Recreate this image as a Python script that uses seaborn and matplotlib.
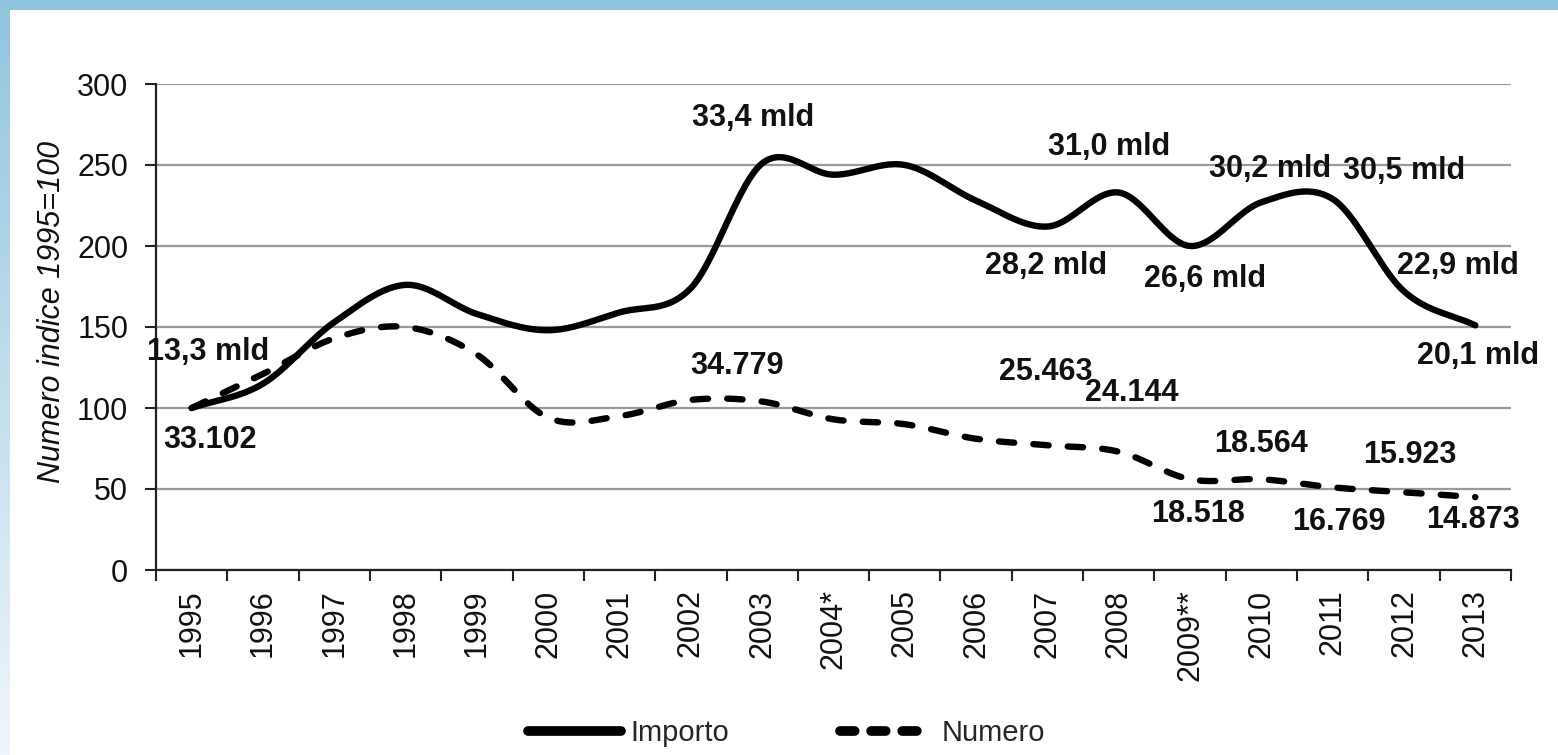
import numpy as np
import pandas as pd
import matplotlib
matplotlib.use("Agg")
import matplotlib.pyplot as plt
from matplotlib.lines import Line2D
from matplotlib.patches import Rectangle
import seaborn as sns

# Data (index 1995=100)
years = ["1995", "1996", "1997", "1998", "1999", "2000", "2001", "2002", "2003", "2004*",
         "2005", "2006", "2007", "2008", "2009**", "2010", "2011", "2012", "2013"]
importo = [100, 115, 153, 176, 158, 148, 159, 174, 251, 244,
           250, 228, 212, 233, 200, 227, 229, 172, 151]
numero = [100, 121, 143, 150, 133, 94, 95, 105, 104, 93,
          90, 81, 77, 73, 56, 56, 51, 48, 45]

# data labels: (year index, text)
importo_labels = [(0, "13,3 mld"), (8, "33,4 mld"), (12, "28,2 mld"), (13, "31,0 mld"),
                  (14, "26,6 mld"), (15, "30,2 mld"), (16, "30,5 mld"), (17, "22,9 mld"),
                  (18, "20,1 mld")]
numero_labels = [(0, "33.102"), (7, "34.779"), (12, "25.463"), (13, "24.144"),
                 (14, "18.518"), (15, "18.564"), (16, "16.769"), (17, "15.923"),
                 (18, "14.873")]

# label offsets in pixels (dx, dy up)
importo_off = [(16, 56), (-9, 45), (-1, -39), (-10, 46), (15, -33), (9, 33), (71, 28), (54, 25), (3, -31)]
numero_off = [(18, -32), (46, 34), (-2, 73), (13, 59), (8, -35), (0, 35), (6, -35), (6, 37), (-2, -23)]


def smooth(ys, n=40):
    # catmull-rom like the excel "smoothed line"
    p = np.array(ys, dtype=float)
    x = np.arange(len(p), dtype=float)
    pts = np.column_stack([x, p])
    pts = np.vstack([2 * pts[0] - pts[1], pts, 2 * pts[-1] - pts[-2]])
    out = []
    for i in range(1, len(pts) - 2):
        p0, p1, p2, p3 = pts[i - 1], pts[i], pts[i + 1], pts[i + 2]
        t = np.linspace(0, 1, n, endpoint=False)[:, None]
        seg = 0.5 * ((2 * p1) + (-p0 + p2) * t + (2 * p0 - 5 * p1 + 4 * p2 - p3) * t ** 2
                     + (-p0 + 3 * p1 - 3 * p2 + p3) * t ** 3)
        out.append(seg)
    out.append(pts[-2][None, :])
    out = np.vstack(out)
    return out[:, 0], out[:, 1]


sns.set_theme(style="white")
plt.rcParams["font.family"] = ["Liberation Sans", "DejaVu Sans"]

fig = plt.figure(figsize=(15.58, 7.55), dpi=100)

# background frame: blue strip on top, fading strip on the left
bg = fig.add_axes([0, 0, 1, 1], zorder=-10)
grad = np.linspace(0, 1, 200)[:, None]
top_c = np.array([0.57, 0.77, 0.87])
bot_c = np.array([0.94, 0.965, 0.985])
bg.imshow(top_c + (bot_c - top_c) * grad[:, :, None] * np.ones((1, 2, 1)),
          extent=[0, 1, 0, 1], aspect="auto", origin="upper")
bg.set_axis_off()
bg.set_xlim(0, 1)
bg.set_ylim(0, 1)
bg.add_patch(Rectangle((0, 1 - 10 / 755), 1, 10 / 755, facecolor=top_c, edgecolor="none", zorder=2))
bg.add_patch(Rectangle((10 / 1558, 0), 1, 1 - 10 / 755, facecolor="white", edgecolor="none", zorder=3))

ax = fig.add_axes([156 / 1558, (755 - 570) / 755, (1511 - 156) / 1558, (570 - 84) / 755])
ax.patch.set_alpha(0)

xs, ys = smooth(importo)
df_imp = pd.DataFrame({"x": xs, "y": ys})
xs2, ys2 = smooth(numero)
df_num = pd.DataFrame({"x": xs2, "y": ys2})

sns.lineplot(data=df_imp, x="x", y="y", ax=ax, color="black", lw=4.6, sort=False,
             estimator=None, solid_capstyle="round", zorder=4)
sns.lineplot(data=df_num, x="x", y="y", ax=ax, color="black", lw=4.6, sort=False,
             estimator=None, zorder=4)
ax.lines[-1].set_dashes((2.4, 3.0))
ax.lines[-1].set_dash_capstyle("round")

ax.set_xlim(-0.5, len(years) - 0.5)
ax.set_ylim(0, 300)
ax.set_yticks([0, 50, 100, 150, 200, 250, 300])
ax.set_xticks(np.arange(len(years)))
ax.set_xticklabels(years, rotation=90, fontsize=22, color="#111111")
ax.set_xticks(np.arange(len(years) + 1) - 0.5, minor=True)
ax.tick_params(axis="x", which="major", length=0, pad=14)
ax.tick_params(axis="x", which="minor", length=8, width=1.5, color="#222222", direction="out",
               bottom=True)
ax.tick_params(axis="y", length=8, width=1.5, color="#222222", direction="out", left=True,
               labelsize=22, pad=12, labelcolor="#111111")
ax.grid(axis="y", color="#9a9a9a", lw=1.6)
ax.set_axisbelow(True)
for s in ["top", "right"]:
    ax.spines[s].set_visible(False)
for s in ["left", "bottom"]:
    ax.spines[s].set_color("#222222")
    ax.spines[s].set_linewidth(1.6)
ax.set_xlabel("")
ax.set_ylabel("Numero indice 1995=100", fontsize=22, style="italic", color="#111111")
ax.yaxis.set_label_coords(-0.066, 0.53)

for (i, txt), (dx, dy) in zip(importo_labels, importo_off):
    ax.annotate(txt, (i, importo[i]), xytext=(dx * 0.72, dy * 0.72), textcoords="offset points",
                ha="center", va="center", fontsize=22, fontweight="bold", color="#111111")
for (i, txt), (dx, dy) in zip(numero_labels, numero_off):
    ax.annotate(txt, (i, numero[i]), xytext=(dx * 0.72, dy * 0.72), textcoords="offset points",
                ha="center", va="center", fontsize=22, fontweight="bold", color="#111111")

handles = [Line2D([], [], color="black", lw=7, solid_capstyle="round"),
           Line2D([], [], color="black", lw=7, dashes=(1.5, 1.7), dash_capstyle="round")]
fig.legend(handles, ["Importo", "Numero"], loc="center", bbox_to_anchor=(0.505, 22 / 755),
           ncol=2, frameon=False, fontsize=21, handlelength=3.2, handletextpad=0.3,
           columnspacing=3.8)

fig.savefig("out.png", dpi=100)
